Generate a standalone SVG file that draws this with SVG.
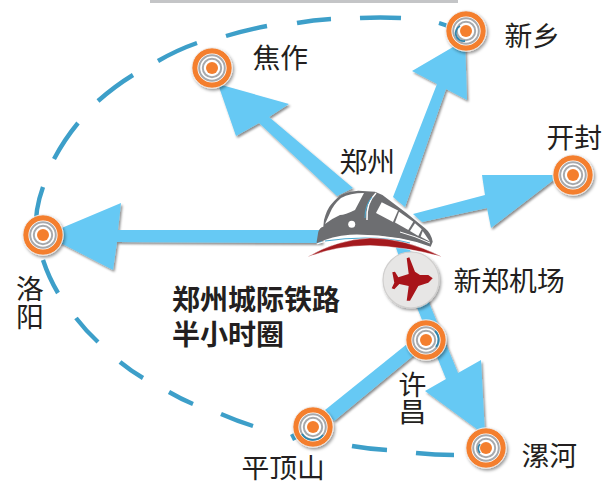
<svg xmlns="http://www.w3.org/2000/svg" width="605" height="485" viewBox="0 0 605 485">
<style>
text{font-family:"Noto Sans CJK SC","Noto Sans",sans-serif;fill:#231f20;font-size:27.8px}
.b{font-weight:700;font-size:28px}
.arrow{fill:#66c9f4;filter:url(#sh)}
.dash{fill:none;stroke:#3d9fc9;stroke-width:4.4}
.o{fill:#fff;stroke:#f47f2f;stroke-width:5.4}
.edge{fill:none;stroke:#f1ece8;stroke-width:1}
.g{fill:none;stroke:#a7a9ac;stroke-width:2}
.c{fill:#f47f2f}
.arc{fill:none;stroke:#2f86ad;stroke-width:1.8}
</style>
<defs>
<filter id="sh" x="-20%" y="-20%" width="140%" height="140%"><feDropShadow dx="1.5" dy="2" stdDeviation="1.3" flood-color="#000" flood-opacity="0.45"/></filter>
<filter id="nsh" x="-30%" y="-30%" width="160%" height="160%"><feDropShadow dx="1.5" dy="2" stdDeviation="1.8" flood-color="#000" flood-opacity="0.4"/></filter>
<g id="target">
<circle r="17.3" class="o"/>
<circle r="20.2" class="edge"/>
<circle r="12.8" class="g"/>
<circle r="9.2" class="g"/>
<circle r="6" class="c"/>
</g>
</defs>
<rect x="150" y="0" width="308" height="3" fill="#c4c5c7"/>
<g id="connectors">
<path class="dash" d="M452 28Q446 25 439 23M401 18Q380 17 360 18M331 19Q313 20 297 23M267 26Q246 30 226 36M197 43Q177 50 158 61M133 75Q115 86 98 101M78 123Q64 140 54 159M43 187Q39 198 37 210M37 210L36 220M43 260Q49 278 58 293M76 318Q86 331 98 342M120 362Q131 371 143 378M169 392Q181 399 193 404M221 414Q237 421 253 426M292 434L295 440M352 446Q369 449 387 450M416 453Q435 455 454 455"/>
<polygon class="arrow" points="218,84 289,104 269,117 353,188 337,196 259,123 236,136"/>
<polygon class="arrow" points="465,40 412,71 437,84 393,197 405,207 446,89 467,100"/>
<polygon class="arrow" points="482,175 560,175 491,228 487,208 422,222 413,214 485,195"/>
<polygon class="arrow" points="45,235 121,203 118,230 322,230 322,243 117,242 113,270"/>
<polygon class="arrow" points="325,410 412,340 420,350 334,421"/>
<polygon class="arrow" points="395,245 410,250 430,305 458,373 481,360 485,435 425,391 446,379 416,305"/>
</g>
<g id="zhengzhou-train">
<path fill="#6d6e71" d="M316.7 241.7L318.3 231.7Q320 227 323.3 226.7L324 220Q327 209 330.7 205Q337 197 343.3 194Q350 191 358.3 190.7L375 191.7Q382 194 386.7 198.3L406.7 213.3L425 228.3Q431 233 432.7 241.7L430.7 246.7Q415 241 400 238.3Q375 234 350 234.7Q332 236 316.7 243.3Z"/>
<path fill="#fff" d="M330 213Q333 205 341 198Q350 193 364 193L355 210Q345 215 340 215Q333 218 325 224Z"/>
<path fill="none" stroke="#fff" stroke-width="1.5" d="M376 193Q366 203 367 220"/>
<path fill="none" stroke="#4aa8cf" stroke-width="1" d="M372 197Q365 205 365 218"/>
<circle cx="351.7" cy="224.3" r="3.5" fill="#fff"/>
<path fill="#fff" d="M381.7 202.3L398 210.5L393 222L376 213Z"/>
<path fill="#fff" d="M399 211.7L413.3 221.7L408.3 230L395 222.5Z"/>
<path fill="#fff" d="M415 223.3L421.7 229.3L418.3 236L410 231Z"/>
<path fill="#fff" d="M422.7 231L430 241.7L420.7 236.7Z"/>
<path fill="none" stroke="#fff" stroke-width="1" d="M400 232Q415 236 430 243"/>
<path fill="none" stroke="#fff" stroke-width="1.2" d="M316.7 244Q335 237 365 236Q390 236 420 244"/>
<path fill="none" stroke="#4aa8cf" stroke-width="1.2" d="M325 241Q345 238 365 238Q390 238 410 243"/>
<path fill="#a41a1e" stroke="#fff" stroke-width="0.4" d="M307.3 257.3Q335 240 370 238Q405 238 441.7 256.7Q405 246.5 370 245.5Q335 245.5 307.3 257.3Z"/>
</g>
<g id="airport">
<circle cx="411" cy="280" r="28" fill="#e7e6e5" stroke="#d0cfce" stroke-width="1.2" filter="url(#nsh)"/>
<path fill="#a8141a" d="M432.7 278.3L428.3 275L420 275L415 271.7L409.3 257.3L406.7 258.3L408.7 274L398.3 277.3L395 271.7L392.3 272.3L394.3 282.7L391.7 288.3L394.3 289.3L399.3 284L408.7 286L406.7 300.7L410 300.7L418.3 286L428.3 282.7Z"/>
</g>
<g id="node-jiaozuo"><use href="#target" x="212" y="68" filter="url(#nsh)"/><text x="252.5" y="68">焦作</text></g>
<g id="node-xinxiang"><use href="#target" x="466" y="31" filter="url(#nsh)"/><path class="arc" d="M460 26A8 8 0 0 0 465 41"/><text x="504.5" y="46">新乡</text></g>
<g id="node-kaifeng"><use href="#target" x="573" y="175" filter="url(#nsh)"/><text x="546.5" y="148">开封</text></g>
<g id="node-luoyang"><use href="#target" x="43" y="235" filter="url(#nsh)"/><text x="16" y="299">洛<tspan x="16" y="327">阳</tspan></text></g>
<g id="node-xuchang"><use href="#target" x="426" y="340" filter="url(#nsh)"/><path class="arc" d="M435 331A12 12 0 0 1 436 347"/><text x="398.5" y="395">许<tspan x="398.5" y="422">昌</tspan></text></g>
<g id="node-pingdingshan"><use href="#target" x="313" y="427" filter="url(#nsh)"/><path class="arc" d="M302 434A13 13 0 0 0 323 435"/><text x="241.5" y="478">平顶山</text></g>
<g id="node-luohe"><use href="#target" x="486" y="448" filter="url(#nsh)"/><path class="arc" d="M480 444A7 7 0 0 0 480 453"/><text x="521.5" y="466">漯河</text></g>
<g id="labels">
<text x="339.5" y="172">郑州</text>
<text x="453.5" y="291">新郑机场</text>
<text class="b" x="172" y="310">郑州城际铁路<tspan x="172" y="345">半小时圈</tspan></text>
</g>
</svg>
